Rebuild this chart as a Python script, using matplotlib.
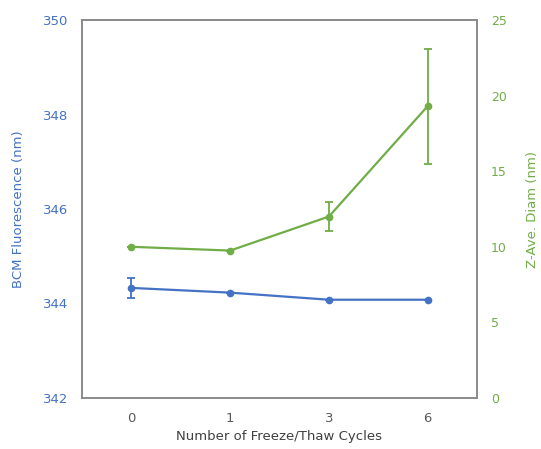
import matplotlib
matplotlib.use("Agg")
import matplotlib.pyplot as plt

cycles = ["0", "1", "3", "6"]
bcm = [344.33, 344.23, 344.08, 344.08]
bcm_err = [0.21, 0.0, 0.0, 0.0]
zave = [10.0, 9.75, 12.0, 19.3]
zave_err = [0.0, 0.0, 0.95, 3.8]

blue = "#4472C4"
green = "#70AD47"

plt.rcParams['font.family'] = ['DejaVu Sans']
fig = plt.figure(figsize=(5.41, 4.49), dpi=100)
ax = fig.add_axes([82/541, 1-398/449, (477-82)/541, (398-20)/449])
ax2 = ax.twinx()

x = list(range(len(cycles)))
ax.errorbar(x, bcm, yerr=bcm_err, color=blue, marker='o', markersize=4.5, lw=1.6,
            capsize=3, elinewidth=1.3, capthick=1.3)
ax2.errorbar(x, zave, yerr=zave_err, color=green, marker='o', markersize=4.5, lw=1.6,
             capsize=3, elinewidth=1.3, capthick=1.3)

ax.set_xlim(-0.5, 3.5)
ax.set_xticks(x)
ax.set_xticklabels(cycles)
ax.set_ylim(342, 350)
ax.set_yticks([342, 344, 346, 348, 350])
ax2.set_ylim(0, 25)
ax2.set_yticks([0, 5, 10, 15, 20, 25])

for a in (ax, ax2):
    for s in a.spines.values():
        s.set_color("#8c8c8c")
        s.set_linewidth(1.3)
    a.tick_params(length=0)

ax.tick_params(axis='y', colors=blue, labelsize=9.5, pad=10)
ax2.tick_params(axis='y', colors=green, labelsize=9, pad=10)
ax.tick_params(axis='x', colors="#595959", labelsize=9.5, pad=10)

ax.set_xlabel("Number of Freeze/Thaw Cycles", color="#404040", fontsize=9.5, labelpad=4)
ax.set_ylabel("BCM Fluorescence (nm)", color=blue, fontsize=9.5, labelpad=13)
ax2.set_ylabel("Z-Ave. Diam (nm)", color=green, fontsize=9.5, labelpad=14)

fig.savefig("out.png", dpi=100)
